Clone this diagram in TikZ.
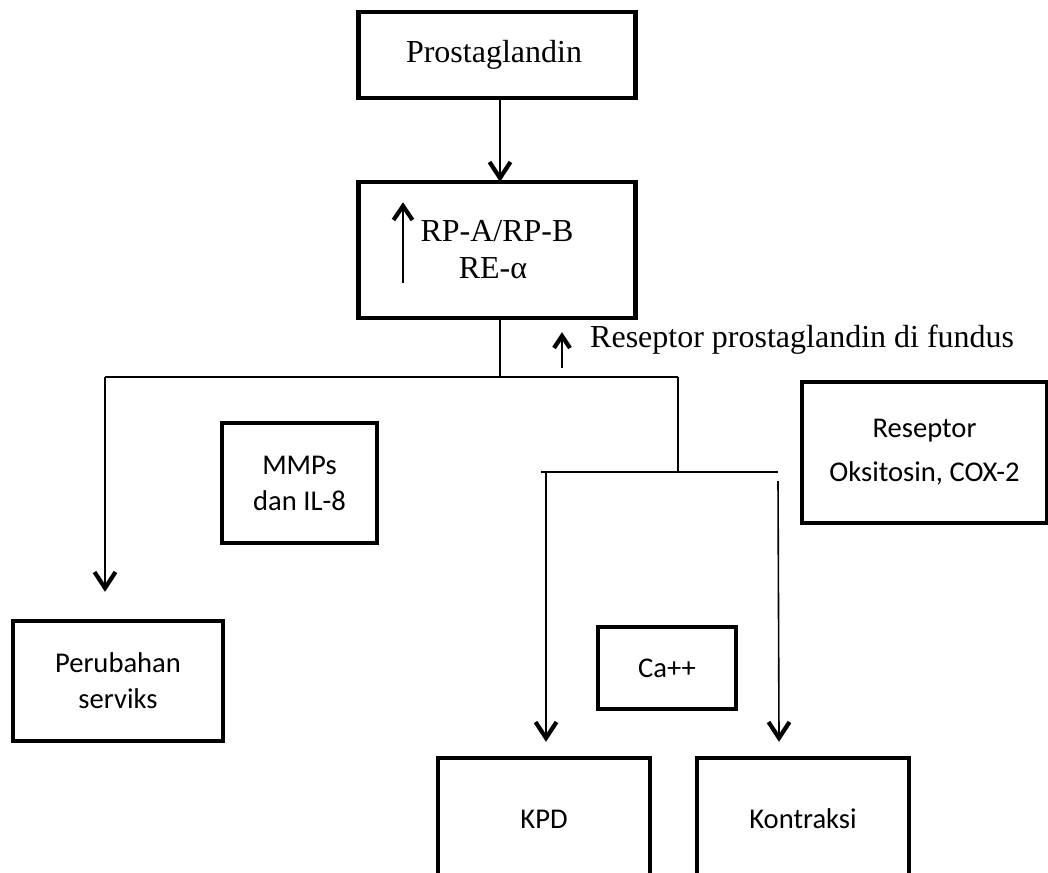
\documentclass[tikz,border=0pt]{standalone}
\usepackage{fontspec}
\setmainfont{Liberation Serif}
\newfontfamily\calibrifont{Carlito}
\begin{document}
\begin{tikzpicture}[x=1pt,y=-1pt,
  box/.style={draw,line width=4.5pt,inner sep=0pt,align=center},
  ser/.style={font=\fontsize{32}{37}\selectfont},
  sans/.style={font=\calibrifont\fontsize{28.6}{36}\selectfont},
  sanswide/.style={font=\calibrifont\fontsize{28.6}{44}\selectfont},
  conn/.style={line width=1.6pt},
  sconn/.style={line width=1.4pt},
  bighead/.style={line width=4.2pt,line join=miter,line cap=butt},
  smallhead/.style={line width=4.2pt,line join=miter,line cap=butt}]
\useasboundingbox (0,0) rectangle (1048,872);

% boxes
\node[box,ser,minimum width=277pt,minimum height=86pt] (prost) at (497,55) {\hspace*{-6pt}Prostaglandin};
\node[box,ser,minimum width=277pt,minimum height=136pt] (rp) at (497,250) {RP-A/RP-B\\\hspace*{-8pt}RE-α};
\node[box,sans,minimum width=155pt,minimum height=120pt] (mmp) at (299.5,483) {MMPs\\dan IL-8};
\node[box,sans,minimum width=210pt,minimum height=120pt] (peru) at (118,681) {Perubahan\\serviks};
\node[box,sanswide,minimum width=245pt,minimum height=141pt] (okt) at (924.5,452.5) {Reseptor\\Oksitosin, COX-2};
\node[box,sans,minimum width=138pt,minimum height=82pt] (ca) at (667,668) {Ca++};
\node[box,sans,minimum width=212pt,minimum height=122pt] (kpd) at (544,819) {KPD};
\node[box,sans,minimum width=212pt,minimum height=122pt] (kon) at (803,819) {Kontraksi};

% free label
\node[ser,anchor=base west,inner sep=0pt] (fund) at (590,347) {Reseptor prostaglandin di fundus};

% coordinates
\coordinate (pa) at (500,178);
\coordinate (ia1) at (403,283);
\coordinate (ia2) at (403,206);
\coordinate (fa1) at (562,368);
\coordinate (fa2) at (562,336);
\coordinate (jm) at (500,377);
\coordinate (jl) at (105,377);
\coordinate (jr) at (678,377);
\coordinate (pt) at (105,588);
\coordinate (j2) at (678,472);
\coordinate (hl) at (541,472);
\coordinate (hr) at (778,472);
\coordinate (kl) at (546,472);
\coordinate (kt) at (546,738);
\coordinate (rs) at (778,481);
\coordinate (rt) at (779,738);

% connectors
\draw[conn] (prost.south -| jm) -- (pa);
\draw[sconn] (ia1) -- (ia2);
\draw[sconn] (fa1) -- (fa2);
\draw[conn] (rp.south -| jm) -- (jm);
\draw[conn] (jl) -- (jr);
\draw[conn] (jl) -- (pt);
\draw[conn] (jr) -- (j2);
\draw[conn] (hl) -- (hr);
\draw[conn] (kl) -- (kt);
\draw[conn] (rs) -- (rt);

% open V arrowheads
\foreach \t in {pa,pt,kt,rt}
  \draw[bighead] ([shift={(-10.5,-16)}]\t) -- (\t) -- ([shift={(10.5,-16)}]\t);
\draw[smallhead] ([shift={(-9.5,14)}]ia2) -- (ia2) -- ([shift={(9.5,14)}]ia2);
\draw[smallhead] ([shift={(-8,12)}]fa2) -- (fa2) -- ([shift={(8,12)}]fa2);
\end{tikzpicture}
\end{document}
